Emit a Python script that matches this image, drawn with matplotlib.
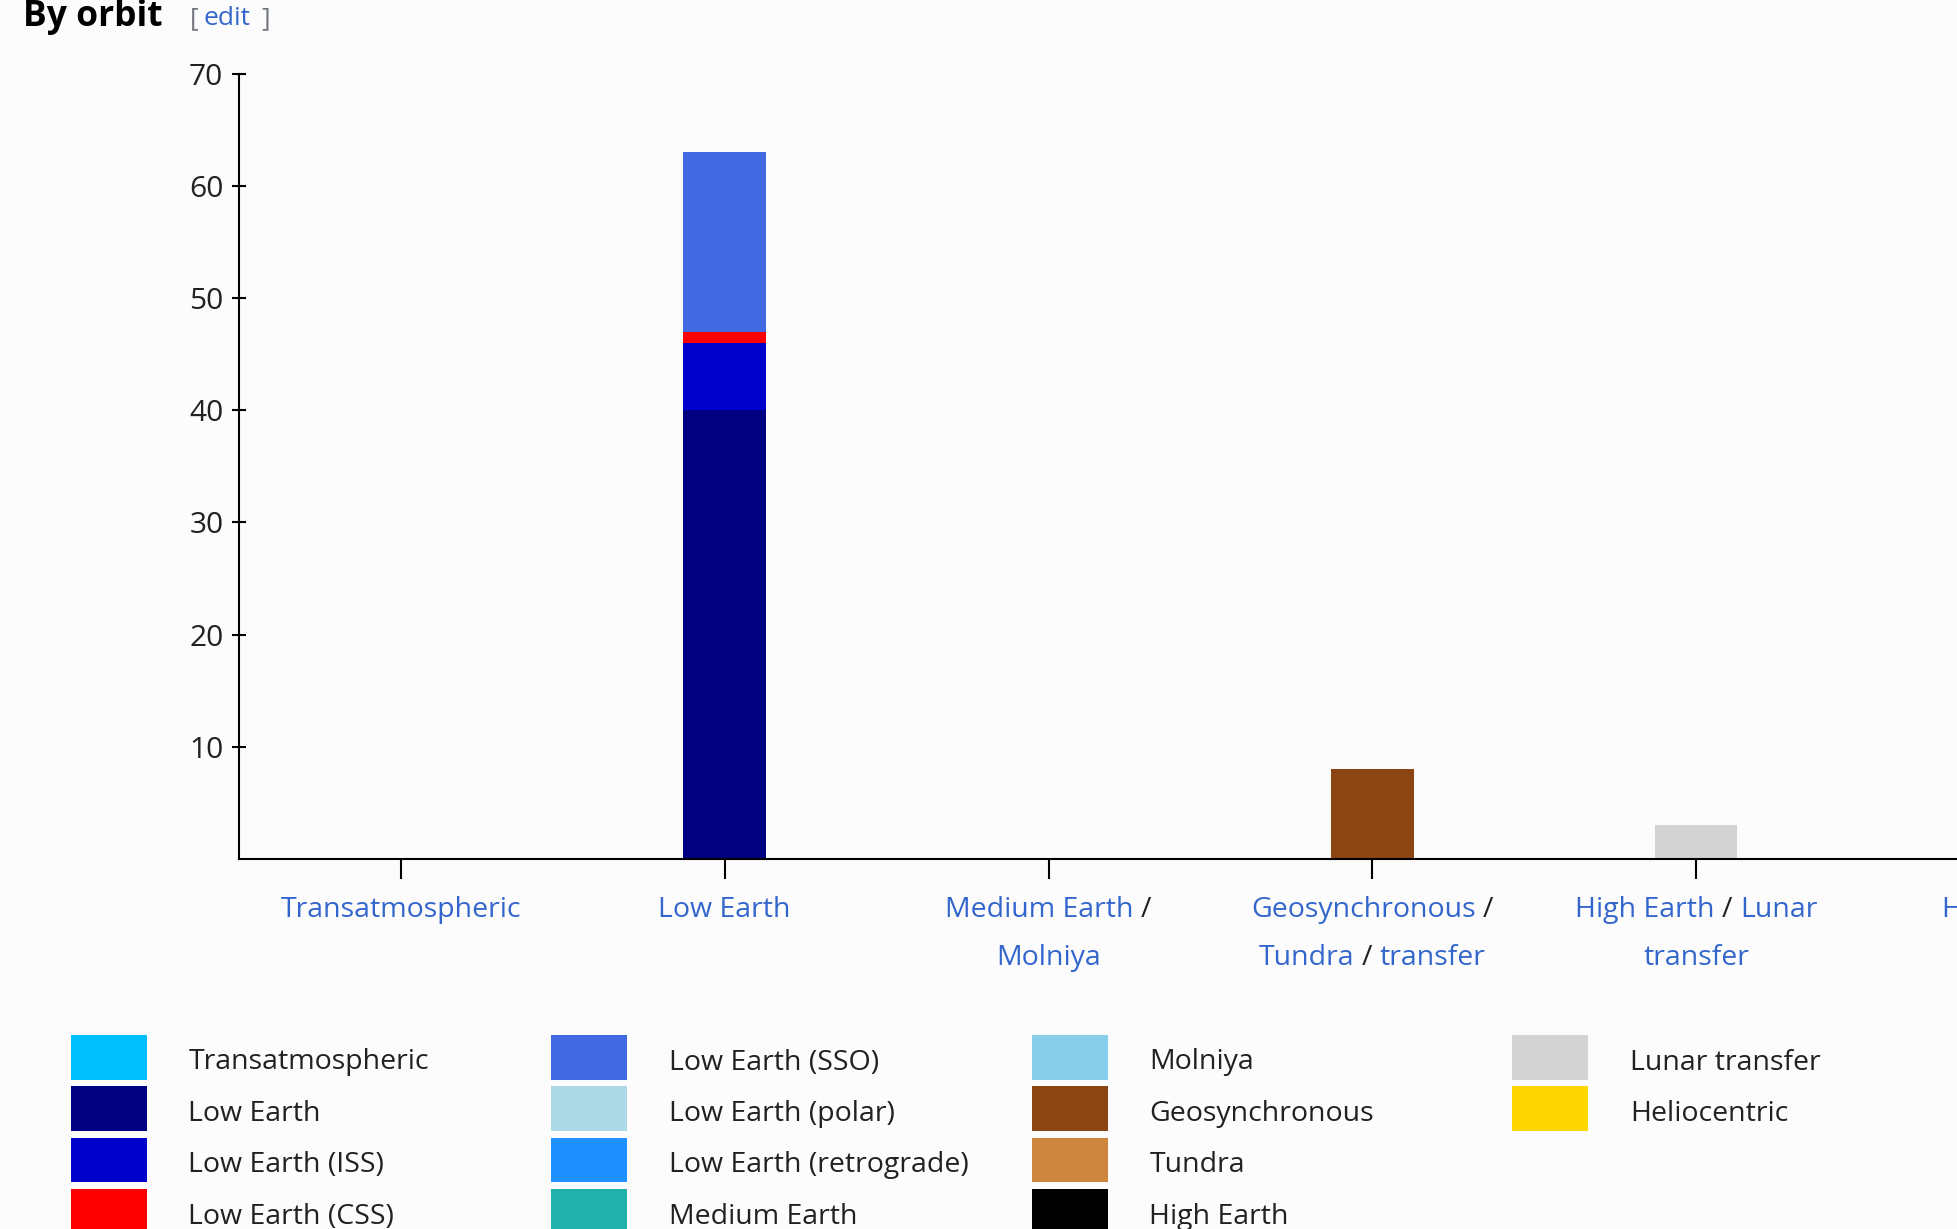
import matplotlib
matplotlib.use("Agg")
import matplotlib.pyplot as plt
from matplotlib.patches import Rectangle
from matplotlib.transforms import IdentityTransform
import numpy as np

# ---------------- data ----------------
categories = ["Transatmospheric", "Low Earth", "Medium Earth / Molniya",
              "Geosynchronous / Tundra / transfer", "High Earth / Lunar transfer",
              "Heliocentric"]
category_lines = [["Transatmospheric"], ["Low Earth"], ["Medium Earth /", "Molniya"],
                  ["Geosynchronous /", "Tundra / transfer"],
                  ["High Earth / Lunar", "transfer"], ["Heliocentric"]]

series_names = ["Transatmospheric", "Low Earth", "Low Earth (ISS)", "Low Earth (CSS)",
                "Low Earth (SSO)", "Low Earth (polar)", "Low Earth (retrograde)",
                "Medium Earth", "Molniya", "Geosynchronous", "Tundra", "High Earth",
                "Lunar transfer", "Heliocentric"]
series_colors = ["#00BFFF", "#000080", "#0000CD", "#FF0000", "#4169E1", "#ADD8E6",
                 "#1E90FF", "#20B2AA", "#87CEEB", "#8B4513", "#CD853F", "#000000",
                 "#D3D3D3", "#FFD700"]
transatmospheric = [0, 0, 0, 0, 0, 0]
low_earth = [0, 40, 0, 0, 0, 0]
low_earth_iss = [0, 6, 0, 0, 0, 0]
low_earth_css = [0, 1, 0, 0, 0, 0]
low_earth_sso = [0, 16, 0, 0, 0, 0]
low_earth_polar = [0, 0, 0, 0, 0, 0]
low_earth_retro = [0, 0, 0, 0, 0, 0]
medium_earth = [0, 0, 0, 0, 0, 0]
molniya = [0, 0, 0, 0, 0, 0]
geosynchronous = [0, 0, 0, 8, 0, 0]
tundra = [0, 0, 0, 0, 0, 0]
high_earth = [0, 0, 0, 0, 0, 0]
lunar_transfer = [0, 0, 0, 0, 3, 0]
heliocentric = [0, 0, 0, 0, 0, 0]
series_values = [transatmospheric, low_earth, low_earth_iss, low_earth_css,
                 low_earth_sso, low_earth_polar, low_earth_retro, medium_earth,
                 molniya, geosynchronous, tundra, high_earth, lunar_transfer,
                 heliocentric]
y_ticks = [10, 20, 30, 40, 50, 60, 70]

# ---------------- style ----------------
W, H = 1958, 1229
BG = "#fcfcfc"
FONT = ["Open Sans", "DejaVu Sans"]
FS = 20.5
LINK = "#3366cc"
TXT = "#202122"

plt.rcParams["font.family"] = FONT

fig = plt.figure(figsize=(W / 100, H / 100), dpi=100, facecolor=BG)

ax_left, ax_bottom, ax_top = 239.0, 859.0, 73.7
cat_step = 323.8
ax = fig.add_axes([ax_left / W, 1 - ax_bottom / H,
                   6 * cat_step / W, (ax_bottom - ax_top) / H])
ax.set_facecolor(BG)

x = np.arange(len(categories))
bottom = np.zeros(len(categories))
for name, vals, col in zip(series_names, series_values, series_colors):
    vals = np.asarray(vals, dtype=float)
    ax.bar(x, vals, width=0.255, bottom=bottom, color=col, linewidth=0, label=name)
    bottom += vals

ax.set_xlim(-0.5, len(categories) - 0.5)
ax.set_ylim(0, 70)
ax.set_yticks(y_ticks)
ax.set_yticklabels([str(v) for v in y_ticks])
ax.set_xticks(x)
ax.set_xticklabels([])
for s in ["top", "right"]:
    ax.spines[s].set_visible(False)
for s in ["left", "bottom"]:
    ax.spines[s].set_linewidth(1.5)
    ax.spines[s].set_color("black")
ax.tick_params(axis="x", direction="out", length=14.5, width=1.5, color="black")
ax.tick_params(axis="y", direction="inout", length=9.5, width=1.5, color="black",
               labelsize=21.5, labelcolor=TXT, pad=6.5)

# ---------------- helpers for mixed-colour text ----------------
fig.canvas.draw()
renderer = fig.canvas.get_renderer()


def text_width(s, fs, weight="normal"):
    t = fig.text(0, 0, s, fontsize=fs, fontweight=weight, transform=IdentityTransform())
    w = t.get_window_extent(renderer).width
    t.remove()
    return w


space_w = text_width("a a", FS) - text_width("aa", FS)


def centered_mixed_line(xc, ybase, line, fs):
    tokens = line.split(" ")
    runs = []
    cur = []
    for tok in tokens:
        if tok == "/":
            if cur:
                runs.append((" ".join(cur), LINK))
                cur = []
            runs.append(("/", TXT))
        else:
            cur.append(tok)
    if cur:
        runs.append((" ".join(cur), LINK))
    widths = [text_width(s, fs) for s, _ in runs]
    total = sum(widths) + space_w * (len(runs) - 1)
    xs = xc - total / 2
    for (s, c), w in zip(runs, widths):
        fig.text(xs, ybase, s, fontsize=fs, color=c, ha="left", va="baseline",
                 transform=IdentityTransform())
        xs += w + space_w


# x category labels
line_base = [917.0, 965.0]
for i, lines in enumerate(category_lines):
    xc = ax.transData.transform((x[i], 0))[0]
    for j, ln in enumerate(lines):
        centered_mixed_line(xc, H - line_base[j], ln, FS)

# ---------------- title ----------------
fig.text(23 / W, 1 - 26 / H, "By orbit", fontsize=25.5, fontweight="bold",
         color="black", ha="left", va="baseline")
ed_y = 1 - 25 / H
fig.text(190 / W, ed_y, "[", fontsize=19, color="#72777d", ha="left", va="baseline")
fig.text(204 / W, ed_y, "edit", fontsize=19, color=LINK, ha="left", va="baseline")
fig.text(261 / W, ed_y, "]", fontsize=19, color="#72777d", ha="left", va="baseline")

# ---------------- legend ----------------
lax = fig.add_axes([0, 0, 1, 1])
lax.set_xlim(0, W)
lax.set_ylim(H, 0)
lax.axis("off")
lax.patch.set_alpha(0)
col_x0, col_step = 71.0, 480.5
row_y0, row_step = 1035.0, 51.4
sw_w, sw_h = 76.0, 44.5
nrows = 4
for k, (name, col) in enumerate(zip(series_names, series_colors)):
    c, r = divmod(k, nrows)
    x0 = col_x0 + c * col_step
    y0 = row_y0 + r * row_step
    lax.add_patch(Rectangle((x0, y0), sw_w, sw_h, facecolor=col, edgecolor="none"))
    lax.text(x0 + 117.5, y0 + 34.5, name, fontsize=FS, color=TXT, ha="left",
             va="baseline")

fig.savefig("out.png", dpi=100, facecolor=BG)
